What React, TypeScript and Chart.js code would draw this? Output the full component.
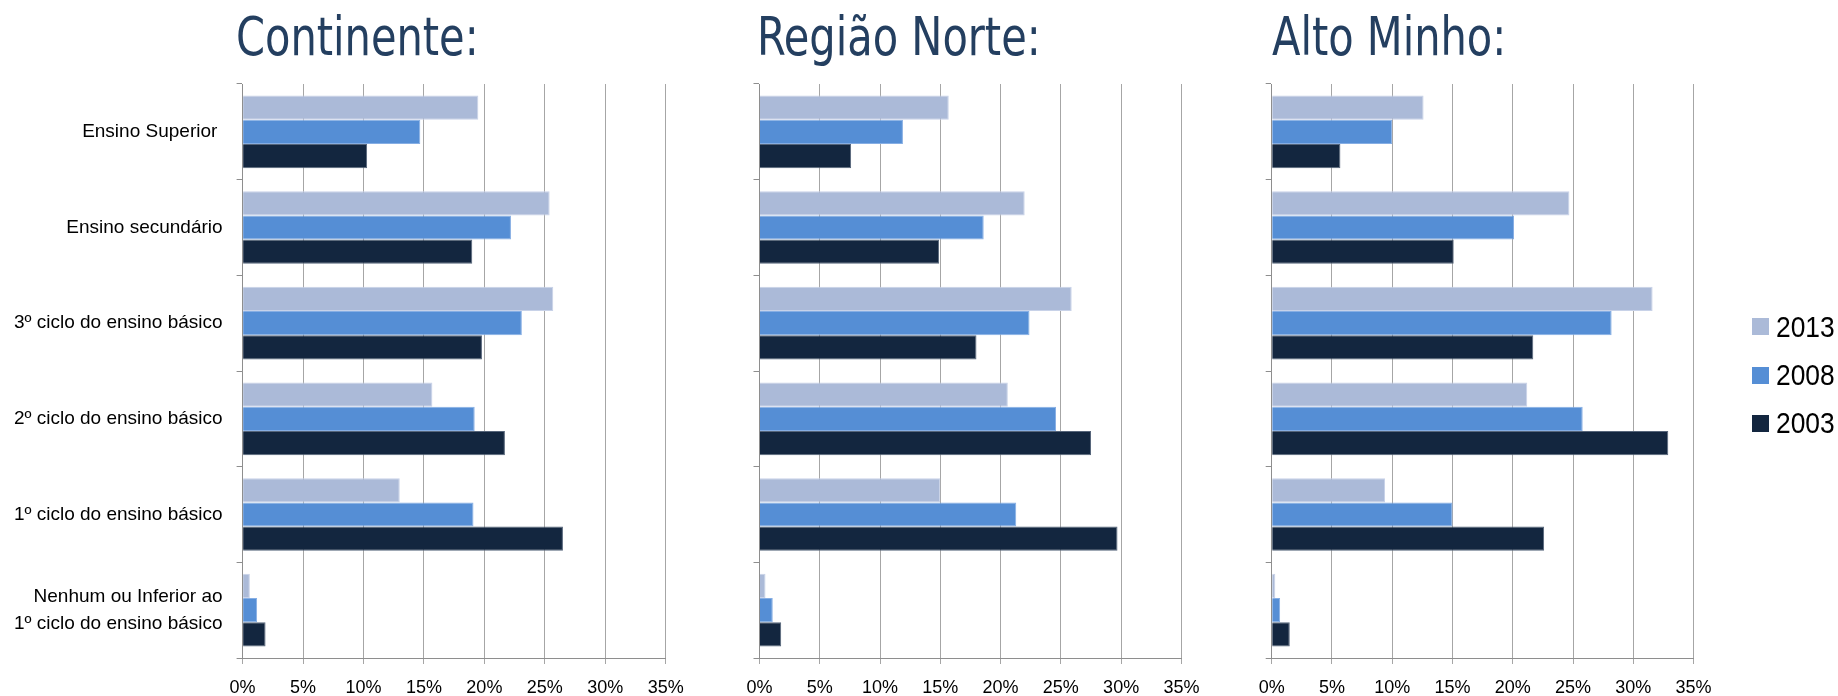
import React, { useEffect, useRef } from "react";
import { Chart, registerables } from "chart.js";

Chart.register(...registerables);

// ---------- data ----------
const categories: (string | string[])[] = [
  "Ensino Superior ",
  "Ensino secundário",
  "3º ciclo do ensino básico",
  "2º ciclo do ensino básico",
  "1º ciclo do ensino básico",
  ["Nenhum ou Inferior ao", "1º ciclo do ensino básico"],
];

const years = ["2013", "2008", "2003"];

const continente2013 = [19.5, 25.4, 25.7, 15.7, 13.0, 0.6];
const continente2008 = [14.7, 22.2, 23.1, 19.2, 19.1, 1.2];
const continente2003 = [10.3, 19.0, 19.8, 21.7, 26.5, 1.9];

const norte2013 = [15.7, 22.0, 25.9, 20.6, 15.0, 0.5];
const norte2008 = [11.9, 18.6, 22.4, 24.6, 21.3, 1.1];
const norte2003 = [7.6, 14.9, 18.0, 27.5, 29.7, 1.8];

const altoMinho2013 = [12.6, 24.7, 31.6, 21.2, 9.4, 0.3];
const altoMinho2008 = [10.0, 20.1, 28.2, 25.8, 15.0, 0.7];
const altoMinho2003 = [5.7, 15.1, 21.7, 32.9, 22.6, 1.5];

const xMin = 0;
const xMax = 35;
const xStep = 5;

// ---------- styles ----------
const yearColors = ["#ABBAD8", "#558ED5", "#13263F"];
const yearBorders = ["#C8D2E8", "#86AEE4", "#56657A"];
const TITLE_COLOR = "#243F60";
const LABEL_FONT = "'Liberation Sans', Arial, sans-serif";
const TITLE_FONT = "'DejaVu Sans Condensed', 'DejaVu Sans', sans-serif";
const TITLE_CONDENSE = 0.855;
const PLOT_TOP = 84;
const PLOT_BOTTOM = 658;
const H = 696;

const panels = [
  {
    title: "Continente:",
    left: 0,
    width: 700,
    plotLeft: 242.6,
    plotRight: 665.7,
    titleX: 236,
    showLabels: true,
    series: [continente2013, continente2008, continente2003],
  },
  {
    title: "Região Norte:",
    left: 700,
    width: 520,
    plotLeft: 759.5,
    plotRight: 1181.4,
    titleX: 757,
    showLabels: false,
    series: [norte2013, norte2008, norte2003],
  },
  {
    title: "Alto Minho:",
    left: 1220,
    width: 618,
    plotLeft: 1271.7,
    plotRight: 1693.6,
    titleX: 1272,
    showLabels: false,
    series: [altoMinho2013, altoMinho2008, altoMinho2003],
  },
];

type PanelDef = (typeof panels)[number];

function Panel({ p }: { p: PanelDef }) {
  const ref = useRef<HTMLCanvasElement>(null);
  useEffect(() => {
    const titlePlugin = {
      id: "panelTitle",
      afterDraw(chart: any) {
        const ctx = chart.ctx;
        ctx.save();
        ctx.font = `54px ${TITLE_FONT}`;
        ctx.fillStyle = TITLE_COLOR;
        ctx.textAlign = "left";
        ctx.textBaseline = "alphabetic";
        ctx.translate(p.titleX - p.left, 55);
        ctx.scale(TITLE_CONDENSE, 1);
        ctx.fillText(p.title, 0, 0);
        ctx.restore();
      },
    };
    const chart = new Chart(ref.current!, {
      type: "bar",
      data: {
        labels: categories as any,
        datasets: years.map((y, i) => ({
          label: y,
          data: p.series[i],
          backgroundColor: yearColors[i],
          borderColor: yearBorders[i],
          borderWidth: 1,
          barPercentage: 1,
          categoryPercentage: 0.76,
        })),
      },
      options: {
        indexAxis: "y",
        responsive: false,
        animation: false,
        layout: {
          padding: { top: PLOT_TOP, right: p.width - (p.plotRight - p.left), bottom: 0, left: 0 },
        },
        plugins: {
          legend: { display: false },
          tooltip: { enabled: false },
          title: { display: false },
        },
        scales: {
          x: {
            min: xMin,
            max: xMax,
            ticks: {
              stepSize: xStep,
              callback: (v: any) => `${v}%`,
              color: "#000",
              font: { family: LABEL_FONT, size: 18 },
              padding: 13,
              maxRotation: 0,
              autoSkip: false,
            },
            grid: { color: "#A6A6A6", tickLength: 6, lineWidth: 1 },
            border: { color: "#8E8E8E" },
            afterFit: (s: any) => {
              s.height = H - PLOT_BOTTOM;
            },
          },
          y: {
            ticks: {
              display: p.showLabels,
              color: "#000",
              font: { family: LABEL_FONT, size: 19, lineHeight: 1.42 },
              padding: 14,
              autoSkip: false,
            },
            grid: { drawOnChartArea: false, tickLength: 6, color: "#8E8E8E", offset: true },
            border: { color: "#8E8E8E" },
            afterFit: (s: any) => {
              s.width = p.plotLeft - p.left;
            },
          },
        },
      } as any,
      plugins: [titlePlugin],
    });
    return () => chart.destroy();
  }, []);
  return (
    <canvas
      ref={ref}
      width={p.width}
      height={H}
      style={{ position: "absolute", left: p.left, top: 0, width: p.width, height: H }}
    />
  );
}

export default function App() {
  const legendCenters = [326.5, 375, 423];
  return (
    <div
      style={{
        position: "fixed",
        left: 0,
        top: 0,
        width: 1838,
        height: H,
        background: "#fff",
        overflow: "hidden",
      }}
    >
      {panels.map((p) => (
        <Panel key={p.title} p={p} />
      ))}
      {years.map((y, i) => (
        <div
          key={y}
          style={{
            position: "absolute",
            left: 1752,
            top: legendCenters[i] - 20,
            height: 40,
            display: "flex",
            alignItems: "center",
            fontFamily: LABEL_FONT,
            fontSize: 30,
            color: "#000",
            whiteSpace: "nowrap",
          }}
        >
          <span
            style={{
              display: "inline-block",
              width: 17,
              height: 17,
              background: yearColors[i],
              marginRight: 7,
            }}
          />
          <span style={{ display: "inline-block", transform: "scaleX(0.88)", transformOrigin: "left center" }}>
            {y}
          </span>
        </div>
      ))}
    </div>
  );
}
